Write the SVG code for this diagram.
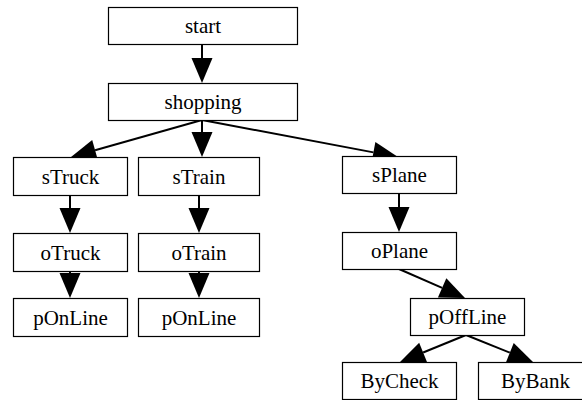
<svg xmlns="http://www.w3.org/2000/svg" width="582" height="400" viewBox="0 0 582 400">
<style>
.n rect{fill:#fff;stroke:#000;stroke-width:1.2}
.n text{font-family:"Liberation Serif","Times New Roman",serif;font-size:21px;text-anchor:middle;fill:#000}
.e line{stroke:#000;stroke-width:2;marker-end:url(#ah)}
</style>
<defs>
<marker id="ah" markerUnits="userSpaceOnUse" markerWidth="26" markerHeight="22" refX="0" refY="10.5" orient="auto" overflow="visible">
<path d="M0,0 L25,10.5 L0,21 z" fill="#000"/>
</marker>
</defs>
<rect width="582" height="400" fill="#fff"/>
<g class="e" id="edges">
<line x1="202" y1="44" x2="202" y2="58"/>
<line x1="202" y1="120" x2="95.06" y2="150.2"/>
<line x1="202" y1="120" x2="202" y2="132"/>
<line x1="202" y1="120" x2="373.44" y2="152.36"/>
<line x1="70" y1="195" x2="70" y2="208"/>
<line x1="199" y1="195" x2="199" y2="208"/>
<line x1="70" y1="271" x2="70" y2="273"/>
<line x1="199" y1="271" x2="199" y2="273"/>
<line x1="399" y1="193" x2="399" y2="207"/>
<line x1="399" y1="269" x2="442.11" y2="287.94"/>
<line x1="466" y1="335" x2="423.14" y2="352.53"/>
<line x1="466" y1="335" x2="509.81" y2="352.66"/>
</g>
<g class="n" id="start"><rect x="108.5" y="7.5" width="189" height="37"/><text x="203" y="33">start</text></g>
<g class="n" id="shopping"><rect x="108.5" y="83.5" width="189" height="37"/><text x="203" y="109">shopping</text></g>
<g class="n" id="sTruck"><rect x="13.5" y="157.5" width="114" height="38"/><text x="70.5" y="183.5">sTruck</text></g>
<g class="n" id="sTrain"><rect x="138.5" y="157.5" width="121" height="38"/><text x="199" y="183.5">sTrain</text></g>
<g class="n" id="sPlane"><rect x="342.5" y="156.5" width="114" height="37"/><text x="399.5" y="182">sPlane</text></g>
<g class="n" id="oTruck"><rect x="13.5" y="233.5" width="114" height="38"/><text x="70.5" y="259.5">oTruck</text></g>
<g class="n" id="oTrain"><rect x="138.5" y="233.5" width="121" height="38"/><text x="199" y="259.5">oTrain</text></g>
<g class="n" id="oPlane"><rect x="342.5" y="232.5" width="114" height="37"/><text x="399.5" y="258">oPlane</text></g>
<g class="n" id="pOnLine1"><rect x="13.5" y="298.5" width="114" height="38"/><text x="70.5" y="324.5">pOnLine</text></g>
<g class="n" id="pOnLine2"><rect x="138.5" y="298.5" width="121" height="38"/><text x="199" y="324.5">pOnLine</text></g>
<g class="n" id="pOffLine"><rect x="410.5" y="298.5" width="114" height="37"/><text x="467.5" y="324">pOffLine</text></g>
<g class="n" id="ByCheck"><rect x="342.5" y="362.5" width="114" height="37"/><text x="399.5" y="388">ByCheck</text></g>
<g class="n" id="ByBank"><rect x="478.5" y="362.5" width="114" height="37"/><text x="535.5" y="388">ByBank</text></g>
</svg>
